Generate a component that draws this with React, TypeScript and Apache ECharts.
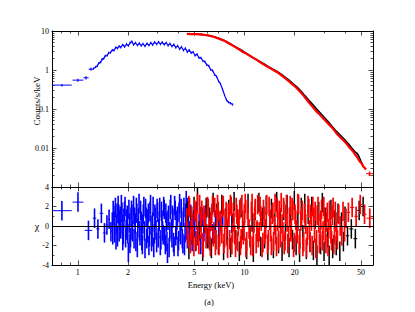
import React, { useEffect, useRef } from "react";
import * as echarts from "echarts";

// ---------- axis definitions ----------
const X_MIN_KEV = 0.7;
const X_MAX_KEV = 59;
const xMajorTicks = [1, 2, 5, 10, 20, 50];
const xMinorTicks = [0.8, 0.9, 3, 4, 6, 7, 8, 9, 30, 40];
const yTopMin = 0.001;
const yTopMax = 10;
const yTopMajor = [0.001, 0.01, 0.1, 1, 10];
const yTopLabels = [0.01, 0.1, 1, 10];
const yTopMinorMantissa = [2, 3, 4, 5, 6, 7, 8, 9];
const yResMin = -4;
const yResMax = 4;
const yResLabels = [-4, -2, 0, 2, 4];
const yResMinor = [-3, -1, 1, 3];
const resErr = 1; // residuals in units of sigma: error bars are +-1
const blueTopRelErr = 0.07; // relative error of the blue spectrum points

// ---------- top panel data (energy keV, counts/s/keV) ----------
const blueTopWide = [
  [0.7, 0.92, 0.41, 0.03],
  [0.93, 1.08, 0.55, 0.05],
  [1.08, 1.16, 0.63, 0.06],
  [1.16, 1.24, 1.05, 0.1],
];
const blueTop = [
  [1.24, 1.08], [1.28, 1.2], [1.31, 1.28], [1.34, 1.52], [1.37, 1.58], [1.4, 1.9], [1.43, 1.95], [1.46, 2.3],
  [1.5, 2.35], [1.53, 2.75], [1.57, 2.8], [1.61, 3.25], [1.65, 3.2], [1.69, 3.8], [1.73, 3.6], [1.77, 4.1],
  [1.81, 3.8], [1.86, 4.45], [1.91, 3.95], [1.96, 4.6], [2.01, 4.2], [2.06, 5.0], [2.11, 5.4], [2.16, 4.45],
  [2.22, 5.0], [2.28, 4.3], [2.34, 4.85], [2.4, 4.2], [2.46, 4.7], [2.53, 4.1], [2.6, 4.8], [2.67, 4.3],
  [2.74, 5.0], [2.81, 4.4], [2.89, 5.2], [2.97, 4.6], [3.05, 5.25], [3.13, 4.6], [3.21, 5.15], [3.3, 4.5],
  [3.39, 5.0], [3.48, 4.25], [3.57, 4.75], [3.67, 4.05], [3.77, 4.5], [3.87, 3.75], [3.97, 4.2], [4.08, 3.45],
  [4.19, 3.9], [4.3, 3.2], [4.42, 3.6], [4.54, 2.9], [4.66, 3.25], [4.79, 2.75], [4.92, 2.9], [5.05, 2.35],
  [5.19, 2.55], [5.33, 2.05], [5.48, 2.05], [5.63, 1.7], [5.78, 1.65], [5.94, 1.35], [6.1, 1.28], [6.27, 1.02],
  [6.44, 0.97], [6.62, 0.76], [6.8, 0.68], [6.99, 0.52], [7.18, 0.44], [7.38, 0.32], [7.58, 0.23], [7.8, 0.17],
  [8.0, 0.15], [8.25, 0.14], [8.5, 0.13],
];
const blackTop = [
  [4.55, 8.5], [5.0, 8.4], [5.5, 8.2], [6.0, 7.8], [6.5, 7.2], [7.0, 6.5], [7.5, 5.8], [8.0, 5.0], [8.5, 4.3],
  [9.0, 3.75], [9.5, 3.3], [10.0, 2.85], [10.6, 2.45], [11.2, 2.1], [11.8, 1.85], [12.5, 1.6], [13.2, 1.4],
  [14.0, 1.2], [14.8, 1.05], [15.6, 0.93], [16.5, 0.79], [17.5, 0.66], [18.5, 0.55], [19.5, 0.45], [20.6, 0.37],
  [21.8, 0.29], [23.0, 0.22], [24.4, 0.165], [26.0, 0.122], [27.6, 0.092], [29.4, 0.068], [31.4, 0.05],
  [33.5, 0.036], [35.5, 0.027], [37.6, 0.021], [39.8, 0.0165], [42.0, 0.0128], [44.0, 0.01], [46.0, 0.008],
  [47.5, 0.0072], [48.8, 0.0058], [50.2, 0.0043], [51.3, 0.0037],
];
const redTop = [
  [4.51, 8.4], [4.8, 8.35], [5.1, 8.3], [5.4, 8.15], [5.8, 7.9], [6.2, 7.5], [6.5, 7.1], [6.83, 6.6], [7.2, 6.1],
  [7.63, 5.55], [8.17, 4.65], [8.6, 4.1], [9.0, 3.66], [9.4, 3.25], [9.78, 2.9], [10.3, 2.6], [10.8, 2.29],
  [11.3, 2.05], [11.9, 1.8], [12.5, 1.55], [13.2, 1.34], [14.2, 1.12], [14.9, 1.0], [15.6, 0.89], [16.5, 0.75],
  [17.5, 0.62], [18.2, 0.54], [19.0, 0.46], [19.8, 0.4], [20.6, 0.34], [21.5, 0.28], [22.4, 0.23], [23.7, 0.17],
  [25.0, 0.128], [26.5, 0.095], [28.0, 0.075], [29.6, 0.058], [31.8, 0.042], [34.0, 0.031], [35.6, 0.024],
  [37.4, 0.019], [39.3, 0.0155], [41.2, 0.0125], [43.0, 0.0098], [44.8, 0.0082], [46.0, 0.0068], [47.3, 0.006],
  [49.0, 0.0046], [50.5, 0.004], [51.4, 0.0034], [52.5, 0.0031], [53.6, 0.0028],
];
const redTopWide = [[53.6, 59, 0.0022, 0.0003]];

// ---------- residual panel data (energy keV, chi) ----------
const blueResWide = [
  [0.7, 0.92, 1.57], [0.93, 1.08, 2.45], [1.1, 1.22, -0.45], [1.23, 1.29, 0.8], [1.29, 1.35, -0.3],
  [1.35, 1.42, 1.3], [1.42, 1.47, -0.7], [1.47, 1.52, 0.1], [1.52, 1.56, 0.7], [1.56, 1.6, -0.6],
];
const blueRes = [
  [1.61, 0.4], [1.63, 1.6], [1.66, -0.7], [1.68, 1.9], [1.71, 0.2], [1.73, -1.1], [1.76, 1.2], [1.78, 0.6],
  [1.81, -0.3], [1.84, 1.4], [1.86, -1.5], [1.89, 0.8], [1.92, 2.0], [1.95, -0.4], [1.98, 1.1], [2.01, -2.7],
  [2.04, 0.3], [2.07, -1.2], [2.1, 1.6], [2.13, -0.6], [2.16, 2.1], [2.19, 0.9], [2.23, -1.6], [2.26, 1.3],
  [2.29, -0.2], [2.33, 2.3], [2.36, -1.0], [2.4, 0.5], [2.44, -1.9], [2.47, 1.2], [2.51, -0.5], [2.55, 1.8],
  [2.59, -1.3], [2.63, 0.7], [2.67, -2.0], [2.71, 1.5], [2.75, 0.1], [2.79, -1.1], [2.83, 2.0], [2.88, -0.8],
  [2.92, 0.9], [2.97, -1.7], [3.01, 1.4], [3.06, -0.3], [3.1, 1.9], [3.15, -1.4], [3.2, 0.6], [3.25, -0.9],
  [3.3, 1.7], [3.35, -1.9], [3.4, 0.4], [3.45, -2.8], [3.5, 1.1], [3.56, -0.6], [3.61, 2.2], [3.67, -1.2],
  [3.72, 0.8], [3.78, -2.1], [3.84, 1.6], [3.9, -0.4], [3.96, 1.0], [4.02, -1.5], [4.08, 2.3], [4.14, -0.9],
  [4.2, 0.5], [4.27, -1.8], [4.33, 1.9], [4.4, -0.7], [4.47, 2.6], [4.54, -1.3], [4.6, 0.8], [4.68, -0.5],
  [4.76, 1.2], [4.85, -1.6], [4.94, 0.6], [5.03, -0.2], [5.13, 1.5], [5.23, -1.0], [5.34, 0.3], [5.46, -1.9],
  [5.58, 0.9], [5.71, -0.6], [5.85, 1.1], [6.0, -1.2], [6.2, 0.4], [6.45, -0.8], [6.7, 0.6], [7.0, -0.3],
  [7.4, 0.9], [7.9, -0.5], [8.4, 0.3],
];
const blueRes2 = [
  [1.62, -0.9], [1.645, 1.1], [1.67, 0.5], [1.695, -1.4], [1.72, 1.3], [1.745, 2.1], [1.77, -0.6], [1.795, 1.0],
  [1.825, 2.2], [1.85, 0.2], [1.875, -0.9], [1.905, 1.5], [1.935, -1.2], [1.965, 0.7], [1.995, -0.8],
  [2.025, 1.7], [2.055, -1.8], [2.085, 0.9], [2.115, -0.4], [2.145, 1.2], [2.175, -1.3], [2.21, 0.3],
  [2.245, 1.9], [2.275, -2.2], [2.31, 0.8], [2.345, -0.5], [2.38, 1.6], [2.42, -1.5], [2.455, 0.2],
  [2.49, 2.0], [2.53, -2.3], [2.57, 0.9], [2.61, -0.7], [2.65, 1.3], [2.69, -1.1], [2.73, 2.2], [2.77, -1.6],
  [2.81, 0.4], [2.855, -2.2], [2.9, 1.2], [2.945, -0.4], [2.99, 1.8], [3.035, -1.2], [3.08, 0.5], [3.125, -2.0],
  [3.175, 1.5], [3.225, -0.5], [3.275, 2.0], [3.325, -1.0], [3.375, 1.3], [3.425, -1.6], [3.475, 0.6],
  [3.53, -2.2], [3.585, 1.7], [3.64, -0.3], [3.695, 1.1], [3.75, -1.7], [3.81, 2.1], [3.87, -1.0], [3.93, 0.6],
  [3.99, -2.1], [4.05, 1.4], [4.11, -0.6], [4.17, 1.8], [4.235, -1.3], [4.3, 0.9], [4.365, -2.0], [4.435, 1.3],
  [4.505, -0.4], [4.57, 1.9],
];
const blackRes = [
  [4.54, 1.5], [4.64, -2.4], [4.75, 0.6], [4.86, -0.9], [4.98, 2.0], [5.1, -1.6], [5.22, 3.1], [5.35, -0.5],
  [5.48, 1.0], [5.61, -2.6], [5.75, 0.3], [5.89, 1.9], [6.03, -1.3], [6.18, 0.9], [6.33, -2.3], [6.48, 2.4],
  [6.64, -0.8], [6.8, 1.3], [6.97, -1.9], [7.14, 0.5], [7.31, 2.2], [7.49, -2.5], [7.67, 0.8], [7.86, -1.0],
  [8.05, 1.7], [8.25, -2.2], [8.45, 0.2], [8.66, 2.5], [8.87, -1.4], [9.09, 0.7], [9.31, -2.6], [9.54, 1.9],
  [9.77, -0.4], [10.0, 1.1], [10.3, -2.4], [10.5, 2.3], [10.8, -1.2], [11.1, 0.4], [11.3, -2.7], [11.6, 1.6],
  [11.9, -0.6], [12.2, 2.4], [12.5, -2.1], [12.8, 0.9], [13.2, -1.3], [13.5, 2.1], [13.8, -2.5], [14.2, 0.6],
  [14.5, 1.8], [14.9, -2.3], [15.2, 0.3], [15.6, 2.5], [16.0, -1.8], [16.4, 0.8], [16.8, -2.6], [17.2, 1.6],
  [17.6, -0.5], [18.0, 2.2], [18.5, -2.2], [18.9, 1.0], [19.4, -1.4], [19.9, 2.6], [20.4, -2.0], [20.9, 0.5],
  [21.4, -2.7], [21.9, 1.9], [22.4, -0.9], [23.0, 2.3], [23.5, -2.4], [24.1, 1.2], [24.7, -1.7], [25.3, 2.0],
  [25.9, -2.5], [26.6, 0.7], [27.2, -3.0], [27.9, 1.5], [28.6, -1.9], [29.3, 2.4], [30.0, -2.6], [30.7, 0.9],
  [31.5, -1.2], [32.2, -3.0], [33.0, 1.7], [33.8, -2.3], [34.7, 0.6], [35.5, -2.0], [36.4, 1.3], [37.3, -2.6],
  [38.2, 0.4], [39.2, -1.6], [40.1, 1.0],
];
const blackResWide = [
  [40.5, 42.5, -1.0], [42.5, 45.0, -0.3], [45.0, 47.5, -1.3], [47.5, 50.0, 1.6], [50.0, 53.0, 2.0],
];
const redRes = [
  [4.5, 0.8], [4.59, -1.2], [4.68, 1.9], [4.78, -0.4], [4.87, 0.3], [4.97, -2.1], [5.07, 1.4], [5.17, 0.6],
  [5.27, -1.0], [5.38, 2.2], [5.49, -0.3], [5.6, -1.7], [5.71, 1.1], [5.82, 0.2], [5.94, -0.8], [6.06, 1.8],
  [6.18, -1.5], [6.3, 0.5], [6.43, 2.1], [6.56, -0.6], [6.69, -2.0], [6.82, 0.9], [6.96, 1.5], [7.1, -1.1],
  [7.24, 0.1], [7.38, 1.9], [7.53, -1.8], [7.68, 0.7], [7.84, -0.2], [7.99, 1.3], [8.15, -1.4], [8.32, 2.0],
  [8.48, -0.7], [8.65, 0.4], [8.83, -2.2], [9.0, 1.2], [9.18, 0.0], [9.37, 1.7], [9.55, -1.3], [9.74, 0.6],
  [9.94, -0.5], [10.1, 2.3], [10.3, -1.6], [10.5, 0.9], [10.8, -0.9], [11.0, 1.5], [11.2, -2.1], [11.4, 0.3],
  [11.6, 1.8], [11.9, -0.4], [12.1, -1.2], [12.4, 2.0], [12.6, 0.5], [12.9, -1.7], [13.1, 1.0], [13.4, -0.3],
  [13.6, 2.2], [13.9, -1.4], [14.2, 0.7], [14.5, -2.0], [14.8, 1.4], [15.1, 0.1], [15.4, -0.9], [15.7, 1.9],
  [16.0, -1.5], [16.3, 0.8], [16.6, 2.4], [17.0, -0.6], [17.3, -1.9], [17.7, 1.2], [18.0, 0.4], [18.4, -1.1],
  [18.8, 2.1], [19.1, -0.2], [19.5, 1.6], [19.9, -1.7], [20.3, 0.6], [20.7, -0.8], [21.1, 2.2], [21.5, -1.3],
  [22.0, 0.9], [22.4, -2.1], [22.9, 1.3], [23.3, 0.2], [23.8, -1.0], [24.3, 1.8], [24.7, -1.6], [25.2, 0.5],
  [25.7, 2.0], [26.3, -0.7], [26.8, -2.3], [27.3, 1.1], [27.9, 0.3], [28.4, -1.2], [29.0, 1.7], [29.6, -0.5],
  [30.2, 0.9], [30.8, -1.8], [31.4, 1.4], [32.0, -0.3], [32.7, 0.6], [33.3, -1.5], [34.0, 1.9], [34.7, -0.9],
  [35.4, 0.4], [36.1, -1.4], [36.8, 1.2], [37.5, 0.0], [38.3, -1.0], [39.0, 1.5], [39.8, -0.6], [40.6, 0.8],
];
const redRes2 = [
  [4.545, -0.6], [4.635, 2.1], [4.73, -1.8], [4.825, 1.0], [4.92, -0.9], [5.02, 1.7], [5.12, -1.5], [5.22, 2.3],
  [5.325, -1.9], [5.435, 0.4], [5.545, 1.6], [5.655, -2.2], [5.765, 0.8], [5.88, -1.3], [6.0, 2.0], [6.12, -0.2],
  [6.24, -2.1], [6.365, 1.3], [6.495, -1.1], [6.625, 1.9], [6.755, -1.4], [6.89, 2.2], [7.03, -2.0], [7.17, 0.6],
  [7.31, -0.8], [7.455, 2.1], [7.605, -1.2], [7.76, 1.5], [7.915, -2.3], [8.07, 0.9], [8.235, 2.2], [8.4, -1.9],
  [8.565, 1.4], [8.74, -0.9], [8.915, 1.9], [9.09, -1.6], [9.275, 0.7], [9.46, -2.0], [9.645, 2.2], [9.84, -0.9],
  [10.0, 1.3], [10.2, -2.2], [10.4, 1.7], [10.65, -0.3], [10.9, -2.0], [11.1, 2.3], [11.3, -1.0], [11.5, 0.9],
  [11.75, -1.8], [12.0, 2.2], [12.25, -0.6], [12.5, 1.1], [12.75, -2.2], [13.0, 1.7], [13.25, -0.9], [13.5, 0.8],
  [13.75, -1.9], [14.05, 2.0], [14.35, -0.6], [14.65, 1.2], [14.95, -1.6], [15.25, 2.3], [15.55, -2.1],
  [15.85, 0.5], [16.15, 1.6], [16.45, -1.2], [16.8, 0.2], [17.15, 1.9], [17.5, -1.5], [17.85, 2.2], [18.2, -1.8],
  [18.6, 0.9], [18.95, -0.6], [19.3, 1.9], [19.7, -2.2], [20.1, 1.2], [20.5, -0.4], [20.9, 2.3], [21.3, -1.9],
  [21.75, 0.5], [22.2, 1.6], [22.65, -1.6], [23.1, 0.7], [23.55, -2.2], [24.05, 2.1], [24.5, -0.4], [24.95, 1.2],
  [25.45, -2.0], [26.0, 0.9], [26.55, 1.5], [27.05, -1.4], [27.6, 2.0], [28.15, -1.8], [28.7, 0.6], [29.3, -1.5],
  [29.9, 2.0], [30.5, -0.9], [31.1, 0.4], [31.7, -2.1], [32.35, 1.6], [33.0, -0.8], [33.65, 1.1], [34.35, -1.9],
  [35.05, 1.5], [35.75, -0.5],
];
const redResWide = [
  [41.0, 43.0, 1.4], [43.0, 45.5, 1.9], [45.5, 48.0, 1.0], [48.0, 51.0, 2.2], [51.0, 54.0, 1.2], [54.0, 59.0, 0.8],
];

// ---------- helpers ----------
const L = (v: number) => Math.log10(v);
const SERIF = '"Liberation Serif", "DejaVu Serif", Times, serif';
const BLUE = "#0000ff";
const RED = "#ff0000";
const BLACK = "#000000";

const denseRes = (p: number[][]) => p.map(([e, r]) => [L(e), L(e), L(e), r - resErr, r + resErr, r]);
const wideRes = (p: number[][]) =>
  p.map(([lo, hi, r]) => [L(lo), L(hi), (L(lo) + L(hi)) / 2, r - resErr, r + resErr, r]);
const wideTop = (p: number[][]) =>
  p.map(([lo, hi, v, dv]) => [L(lo), L(hi), (L(lo) + L(hi)) / 2, L(v - dv), L(v + dv), L(v)]);
const denseTop = (p: number[][], rel: number) =>
  p.map(([e, v]) => [L(e), L(e), L(e), L(v * (1 - rel)), L(v * (1 + rel)), L(v)]);
const lineTop = (p: number[][]) => p.map(([e, v]) => [L(e), L(v)]);

const fmtX = (v: number) => String(Math.round(Math.pow(10, v)));
const fmtTopY = (v: number) => {
  const p = Math.round(v);
  const val = Math.pow(10, p);
  return p >= 0 ? String(val) : val.toFixed(-p);
};
const fmtRes = (v: number) => String(Math.round(v));

function makeAxis(
  kind: "x" | "y",
  grid: number,
  position: string,
  min: number,
  max: number,
  ticks: number[],
  len: number,
  line: boolean,
  labels: number[] | null,
  fmt?: (v: number) => string
): any {
  return {
    type: "value",
    gridIndex: grid,
    position,
    min,
    max,
    axisLine: { show: line, onZero: false, lineStyle: { color: BLACK, width: 1 } },
    axisTick: { show: true, inside: true, length: len, customValues: ticks, lineStyle: { color: BLACK, width: 0.7 } },
    axisLabel: labels
      ? {
          show: true,
          customValues: labels,
          formatter: fmt,
          color: BLACK,
          fontFamily: SERIF,
          fontSize: 8,
          margin: kind === "x" ? 3 : 3,
        }
      : { show: false },
    splitLine: { show: false },
    minorTick: { show: false },
  };
}

function crossRender(color: string, lw: number) {
  return (params: any, api: any) => {
    const xlo = api.value(0);
    const xhi = api.value(1);
    const xm = api.value(2);
    const ylo = api.value(3);
    const yhi = api.value(4);
    const y = api.value(5);
    const a = api.coord([xm, yhi]);
    const b = api.coord([xm, ylo]);
    const children: any[] = [
      { type: "line", shape: { x1: a[0], y1: a[1], x2: b[0], y2: b[1] }, style: { stroke: color, lineWidth: lw } },
    ];
    if (xhi > xlo) {
      const c = api.coord([xlo, y]);
      const d = api.coord([xhi, y]);
      children.push({
        type: "line",
        shape: { x1: c[0], y1: c[1], x2: d[0], y2: d[1] },
        style: { stroke: color, lineWidth: 1 },
      });
    }
    return { type: "group", children };
  };
}

function buildOption(): any {
  const xmin = L(X_MIN_KEV);
  const xmax = L(X_MAX_KEV);
  const xMaj = xMajorTicks.map(L);
  const xMin = xMinorTicks.map(L);
  const yTMaj = yTopMajor.map(L);
  const yTMin: number[] = [];
  for (const dec of [0.001, 0.01, 0.1, 1]) for (const m of yTopMinorMantissa) yTMin.push(L(dec * m));
  const yTLab = yTopLabels.map(L);

  const MAJ = 4.5;
  const MIN = 2.5;

  const xAxis = [
    makeAxis("x", 0, "bottom", xmin, xmax, xMaj, MAJ, true, null),
    makeAxis("x", 0, "bottom", xmin, xmax, xMin, MIN, false, null),
    makeAxis("x", 0, "top", xmin, xmax, xMaj, MAJ, true, null),
    makeAxis("x", 0, "top", xmin, xmax, xMin, MIN, false, null),
    makeAxis("x", 1, "bottom", xmin, xmax, xMaj, MAJ, true, xMaj, fmtX),
    makeAxis("x", 1, "bottom", xmin, xmax, xMin, MIN, false, null),
    makeAxis("x", 1, "top", xmin, xmax, xMaj, MAJ, true, null),
    makeAxis("x", 1, "top", xmin, xmax, xMin, MIN, false, null),
  ];
  const yAxis = [
    makeAxis("y", 0, "left", L(yTopMin), L(yTopMax), yTMaj, MAJ, true, yTLab, fmtTopY),
    makeAxis("y", 0, "left", L(yTopMin), L(yTopMax), yTMin, MIN, false, null),
    makeAxis("y", 0, "right", L(yTopMin), L(yTopMax), yTMaj, MAJ, true, null),
    makeAxis("y", 0, "right", L(yTopMin), L(yTopMax), yTMin, MIN, false, null),
    makeAxis("y", 1, "left", yResMin, yResMax, yResLabels, MAJ, true, yResLabels, fmtRes),
    makeAxis("y", 1, "left", yResMin, yResMax, yResMinor, MIN, false, null),
    makeAxis("y", 1, "right", yResMin, yResMax, yResLabels, MAJ, true, null),
    makeAxis("y", 1, "right", yResMin, yResMax, yResMinor, MIN, false, null),
  ];

  const custom = (data: any[], color: string, lw: number, xi: number, yi: number, z = 2) => ({
    type: "custom",
    xAxisIndex: xi,
    yAxisIndex: yi,
    data,
    clip: true,
    silent: true,
    z,
    renderItem: crossRender(color, lw),
  });
  const line = (data: any[], color: string, lw: number, z = 2) => ({
    type: "line",
    xAxisIndex: 0,
    yAxisIndex: 0,
    data,
    symbol: "none",
    silent: true,
    clip: true,
    z,
    lineStyle: { color, width: lw },
  });

  return {
    animation: false,
    backgroundColor: "#ffffff",
    grid: [
      { left: 52, top: 31, width: 321, height: 156 },
      { left: 52, top: 187, width: 321, height: 78 },
    ],
    xAxis,
    yAxis,
    series: [
      custom(wideTop(blueTopWide), BLUE, 1.2, 0, 0),
      line(lineTop(blueTop), BLUE, 1.2),
      custom(denseTop(blueTop, blueTopRelErr), BLUE, 1, 0, 0),
      line(lineTop(blackTop), BLACK, 1.6, 3),
      line(lineTop(redTop), RED, 2.2, 4),
      custom(wideTop(redTopWide), RED, 1.6, 0, 0, 4),
      custom(wideRes(blueResWide).concat(denseRes(blueRes), denseRes(blueRes2)), BLUE, 1.6, 4, 4),
      custom(denseRes(blackRes).concat(wideRes(blackResWide)), BLACK, 1.5, 4, 4, 3),
      custom(denseRes(redRes).concat(denseRes(redRes2), wideRes(redResWide)), RED, 1.7, 4, 4, 4),
      {
        type: "line",
        xAxisIndex: 4,
        yAxisIndex: 4,
        data: [],
        silent: true,
        z: 10,
        markLine: {
          silent: true,
          symbol: ["none", "none"],
          label: { show: false },
          lineStyle: { color: BLACK, width: 1, type: "solid" },
          data: [{ yAxis: 0 }],
        },
      },
    ],
    graphic: [
      {
        type: "text",
        x: 37,
        y: 101,
        rotation: Math.PI / 2,
        style: {
          text: "Counts/s/keV",
          fill: BLACK,
          font: `9px ${SERIF}`,
          textAlign: "center",
          textVerticalAlign: "middle",
          align: "center",
          verticalAlign: "middle",
        },
      },
      {
        type: "text",
        x: 37,
        y: 226,
        style: {
          text: "χ",
          fill: BLACK,
          font: `10px ${SERIF}`,
          textAlign: "center",
          textVerticalAlign: "middle",
          align: "center",
          verticalAlign: "middle",
        },
      },
      {
        type: "text",
        x: 211,
        y: 285,
        style: {
          text: "Energy (keV)",
          fill: BLACK,
          font: `8.5px ${SERIF}`,
          textAlign: "center",
          textVerticalAlign: "middle",
          align: "center",
          verticalAlign: "middle",
        },
      },
      {
        type: "text",
        x: 209,
        y: 302,
        style: {
          text: "(a)",
          fill: BLACK,
          font: `8.5px ${SERIF}`,
          textAlign: "center",
          textVerticalAlign: "middle",
          align: "center",
          verticalAlign: "middle",
        },
      },
    ],
  };
}

export default function App() {
  const ref = useRef<HTMLDivElement>(null);
  useEffect(() => {
    if (!ref.current) return;
    const chart = echarts.init(ref.current, null, { renderer: "svg" });
    chart.setOption(buildOption());
    return () => chart.dispose();
  }, []);
  return (
    <div
      ref={ref}
      style={{ position: "fixed", left: 0, top: 0, width: 415, height: 312, background: "#ffffff" }}
    />
  );
}
